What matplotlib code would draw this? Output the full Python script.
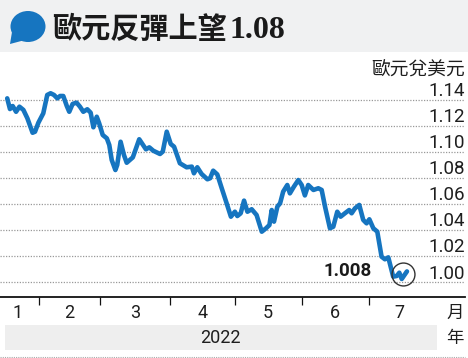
import numpy as np
import matplotlib.pyplot as plt
from matplotlib.patches import Ellipse, Polygon, Rectangle
from matplotlib.transforms import blended_transform_factory

plt.rcParams['font.family'] = ['Roboto', 'Noto Sans CJK TC', 'DejaVu Sans']

# trading-day index (0 = 3 Jan 2022) and EUR/USD rate
days = [10.6, 11.5, 12.4, 13.5, 14.6, 15.9, 17.2, 18.9, 19.7, 20.8,
        22.4, 23.7, 24.8, 25.9, 27.0, 27.9, 28.95, 30.1, 30.9, 32.0,
        33.3, 34.4, 35.5, 36.8, 37.9, 38.8, 39.9, 40.7, 41.85, 43.2,
        44.0, 44.8, 46.0, 46.6, 47.7, 48.8, 49.7, 51.7, 53.8, 56.0,
        57.1, 58.4, 60.6, 61.5, 62.8, 64.1, 65.2, 67.1, 69.3, 71.0,
        71.7, 72.8, 74.2, 76.1, 77.0, 78.0, 79.35, 80.8, 82.4, 83.8,
        85.1, 85.9, 87.0, 88.1, 89.2, 90.6, 92.2, 93.9, 95.3, 96.4,
        97.15, 97.9, 99.0, 99.9, 100.9, 102.25, 103.1, 104.4, 105.85, 106.96,
        108.0, 109.1, 110.8, 112.4, 113.5, 114.6, 116.2, 117.3, 118.6, 119.7,
        121.1, 122.5, 123.3, 124.4, 125.8, 127.1, 128.2, 129.1, 130.4, 131.7,
        133.1, 134.2, 135.3, 136.9, 138.05, 138.9, 139.7, 141.4]
rate = [1.1409, 1.1327, 1.1350, 1.1306, 1.1345, 1.1320, 1.1256, 1.1145, 1.1153, 1.1222,
        1.1294, 1.1435, 1.1448, 1.1435, 1.1409, 1.1427, 1.1427, 1.1350, 1.1306, 1.1366,
        1.1376, 1.1345, 1.1306, 1.1325, 1.1299, 1.1187, 1.1268, 1.1217, 1.1128, 1.1102,
        1.1051, 1.0936, 1.0859, 1.0898, 1.1076, 1.0974, 1.0915, 1.0956, 1.1095, 1.1018,
        1.1033, 1.1007, 1.0982, 1.1000, 1.1153, 1.1059, 1.1038, 1.0911, 1.0880, 1.0885,
        1.0834, 1.0880, 1.0829, 1.0788, 1.0796, 1.0854, 1.0825, 1.0719, 1.0604, 1.0501,
        1.0539, 1.0506, 1.0527, 1.0624, 1.0539, 1.0558, 1.0514, 1.0386, 1.0412, 1.0437,
        1.0552, 1.0463, 1.0578, 1.0604, 1.0693, 1.0744, 1.0680, 1.0731, 1.0782, 1.0744,
        1.0664, 1.0744, 1.0706, 1.0719, 1.0706, 1.0578, 1.0412, 1.0424, 1.0539, 1.0501,
        1.0527, 1.0552, 1.0527, 1.0565, 1.0591, 1.0476, 1.0450, 1.0481, 1.0412, 1.0386,
        1.0194, 1.0174, 1.0189, 1.0041, 1.0046, 1.0071, 1.0023, 1.0081]

month_starts = [21, 41, 64, 85, 107, 129]
month_label_pos = [14, 31, 52.5, 74.5, 96, 118, 139]
month_labels = ['1', '2', '3', '4', '5', '6', '7']
y_ticks = [1.00, 1.02, 1.04, 1.06, 1.08, 1.10, 1.12, 1.14]
year_label = '2022'
last_label = '1.008'
title_cjk = '歐元反彈上望'
title_num = '1.08'
unit = '歐元兌美元'

W, H = 468, 358
blue = '#1675c0'
ink = '#1e1e1e'
fig = plt.figure(figsize=(W / 100, H / 100), dpi=100)

# overlay in pixel units for header / footer decoration
ov = fig.add_axes([0, 0, 1, 1])
ov.set_xlim(0, W)
ov.set_ylim(H, 0)
ov.axis('off')
ov.add_patch(Rectangle((0, 0), W, 52, color='#f0f1f2', lw=0))
ov.add_patch(Ellipse((28, 26.5), 35, 31, color=blue, lw=0))
ov.add_patch(Polygon([(12, 32), (10, 44), (25, 40)], color=blue, lw=0))
ov.text(52, 29, title_cjk, fontsize=21, fontweight='bold', va='center', ha='left',
        family=['Noto Sans CJK TC'], color='#1a1a1a')
ov.text(229, 30, title_num, fontsize=23, fontweight='bold', va='center', ha='left',
        family=['Liberation Serif'], color='#1a1a1a')
ov.text(465, 69, unit, fontsize=13.5, ha='right', va='center',
        family=['Noto Sans CJK TC'], color=ink)
ov.add_patch(Rectangle((5, 325), 432, 25, color='#eeeeee', lw=0))
ov.text(220, 338, year_label, fontsize=13, ha='center', va='center', color=ink)
ov.text(455, 313, '月', fontsize=12.5, ha='center', va='center',
        family=['Noto Sans CJK TC'], color=ink)
ov.text(455, 338, '年', fontsize=12.5, ha='center', va='center',
        family=['Noto Sans CJK TC'], color=ink)
ov.plot([0, 465], [357, 357], color='#aaaaaa', lw=0.8, ls=(0, (1, 1)))

ax = fig.add_axes([0, (H - 296.7) / H, 465 / W, (296.7 - 90) / H])
ax.set_facecolor('none')
ax.set_xlim(8.24, 160.4)
ax.set_ylim(0.9887, 1.1473)

for v in y_ticks:
    ax.axhline(v, color='#999999', lw=0.9, ls=(0, (1, 1.2)), zorder=1)
    ax.annotate(f'{v:.2f}', xy=(1.0, v), xycoords=('axes fraction', 'data'),
                xytext=(0, 2.5), textcoords='offset points',
                ha='right', va='baseline', fontsize=13.5, color=ink)

ax.plot(days, rate, color=blue, lw=3.3, solid_joinstyle='round',
        solid_capstyle='round', zorder=3)

cx = np.mean(days[-3:])
cy = np.mean(rate[-3:])
ax.plot([cx], [cy], marker='o', ms=16.5, mfc='none', mec='#333333', mew=1.0, zorder=4)
ax.annotate(last_label, xy=(days[-1], rate[-1]), xytext=(-25, 0),
            textcoords='offset points', ha='right', va='center',
            fontsize=13.5, fontweight='bold', color='#1a1a1a')

for s in ['top', 'left', 'right']:
    ax.spines[s].set_visible(False)
ax.spines['bottom'].set_linewidth(1.3)
ax.spines['bottom'].set_color('#111111')
ax.set_yticks([])
ax.set_xticks(month_starts)
ax.set_xticklabels([])
ax.tick_params(axis='x', which='major', direction='out', length=5.8, width=0.9, color='#111111')

tr = blended_transform_factory(ax.transData, fig.transFigure)
for pos, lab in zip(month_label_pos, month_labels):
    ax.text(pos, 1 - 313 / H, lab, transform=tr, ha='center', va='center',
            fontsize=13, color=ink, clip_on=False)

fig.savefig('out.png', dpi=100)
